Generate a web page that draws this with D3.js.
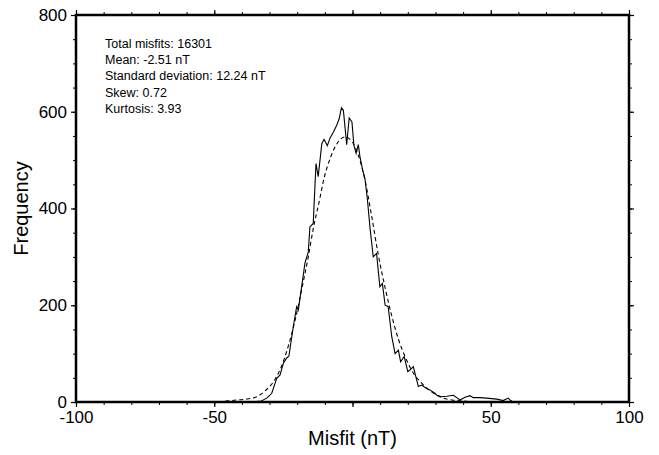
<!DOCTYPE html>
<html lang="en">
<head>
<meta charset="UTF-8">
<title>Misfit histogram</title>
<script src="https://d3js.org/d3.v7.min.js"></script>
<style>
  body { margin: 0; background: #fff; }
  svg { font-family: "Liberation Sans", Arial, sans-serif; }
</style>
</head>
<body>
<script>
// observed misfit histogram (nT, count)
var histX = [-46, -40, -35, -33, -31, -29.2, -27.4, -26.2, -25, -23.8, -23, -21.4, -20.2, -19.6, -18.4, -17.2, -16, -15.4, -14.2, -13.9, -13.2, -12.4, -11.1, -10.3, -9.1, -8.1, -6.9, -5.7, -4.8, -4, -3.3, -2.1, -1.2, -0.2, 0.5, 1.3, 2.1, 2.7, 3.7, 4.5, 5.4, 6.3, 7.5, 8.7, 9.9, 10.8, 11.8, 12.9, 14.2, 15.4, 16.6, 17.4, 18.7, 20, 20.8, 22, 23.8, 25, 26.8, 28, 29.8, 30.5, 32.2, 34.1, 36.5, 37.7, 38.9, 40.7, 42.5, 43.7, 46.1, 48.5, 52.2, 54.5, 56.3, 57.2, 58, 61];
var histY = [0, 1, 1, 2, 8, 18, 49, 56, 80, 91, 95, 156, 197, 190, 238, 287, 310, 362, 369, 407, 493, 466, 534, 543, 530, 546, 558, 572, 586, 608, 603, 532, 587, 579, 531, 514, 532, 507, 479, 462, 418, 362, 300, 307, 238, 245, 200, 197, 135, 100, 107, 83, 94, 63, 66, 73, 32, 35, 28, 25, 18, 14, 11, 12, 14, 9, 4, 10, 13, 9, 9, 8, 6, 3, 8, 3, 0, 0];

// fitted normal curve
var fitX = [-46, -42, -38.3, -34.6, -31.6, -28, -25.6, -23.2, -20.8, -18.4, -16, -14.2, -11.8, -10.6, -8, -5.5, -2.7, 0, 2, 4.5, 6.9, 9.3, 11.8, 14.2, 16.6, 19, 22, 25, 28.6, 32, 36, 40, 45];
var fitY = [2, 4, 6, 11, 23, 47, 75, 116, 168, 232, 300, 358, 421, 455, 505, 535, 548, 537, 512, 459, 385, 305, 236, 178, 130, 94, 60, 39, 21, 10, 4, 2, 0];

var xTickVals = [-100, -50, 0, 50, 100];
var xTickLabels = ["-100", "-50", "", "50", "100"];
var yTickVals = [0, 200, 400, 600, 800];

var statLines = [
  "Total misfits: 16301",
  "Mean: -2.51 nT",
  "Standard deviation: 12.24 nT",
  "Skew: 0.72",
  "Kurtosis: 3.93"
];

var margin = { top: 15, right: 30, bottom: 53, left: 76 },
    width = 659 - margin.left - margin.right,
    height = 455 - margin.top - margin.bottom;

var svg = d3.select("body").append("svg")
    .attr("width", 659)
    .attr("height", 455);

var g = svg.append("g")
    .attr("transform", "translate(" + margin.left + "," + margin.top + ")");

var x = d3.scaleLinear().domain([-100, 100]).range([0, width]);
var y = d3.scaleLinear().domain([0, 800]).range([height, 0]);

// minor ticks on all four sides, pointing outward
var xMinor = d3.range(-100, 101, 10);
var yMinor = d3.range(0, 801, 50);

function minorAxis(axis, vals, tr) {
  var a = g.append("g").attr("transform", tr)
      .call(axis.tickValues(vals).tickSize(3).tickFormat(""));
  a.select(".domain").remove();
  a.selectAll("line").attr("stroke", "#000").attr("stroke-width", 1);
}
minorAxis(d3.axisBottom(x), xMinor, "translate(0," + height + ")");
minorAxis(d3.axisTop(x), xMinor, "translate(0,0)");
minorAxis(d3.axisLeft(y), yMinor, "translate(0,0)");
minorAxis(d3.axisRight(y), yMinor, "translate(" + width + ",0)");

function majorAxis(axis, vals, tr, fmt) {
  var a = g.append("g").attr("transform", tr)
      .call(axis.tickValues(vals).tickSize(5).tickPadding(4).tickFormat(fmt));
  a.select(".domain").remove();
  a.selectAll("line").attr("stroke", "#000").attr("stroke-width", 1.2);
  a.selectAll("text").attr("font-size", 17).attr("fill", "#000")
      .attr("font-family", "Liberation Sans, Arial, sans-serif");
  return a;
}
majorAxis(d3.axisBottom(x), xTickVals, "translate(0," + height + ")",
  function (d, i) { return xTickLabels[i]; });
majorAxis(d3.axisTop(x), xTickVals, "translate(0,0)", "");
majorAxis(d3.axisLeft(y), yTickVals, "translate(0,0)", d3.format("d"));
majorAxis(d3.axisRight(y), yTickVals, "translate(" + width + ",0)", "");

// curves
var line = d3.line().x(d => x(d[0])).y(d => y(d[1]));

g.append("path")
    .datum(d3.zip(fitX, fitY))
    .attr("d", line.curve(d3.curveMonotoneX))
    .attr("fill", "none")
    .attr("stroke", "#000")
    .attr("stroke-width", 1.1)
    .attr("stroke-dasharray", "4,3");

g.append("path")
    .datum(d3.zip(histX, histY))
    .attr("d", line.curve(d3.curveLinear))
    .attr("fill", "none")
    .attr("stroke", "#000")
    .attr("stroke-width", 1.1);

// frame
g.append("rect")
    .attr("width", width).attr("height", height)
    .attr("fill", "none")
    .attr("stroke", "#000")
    .attr("stroke-width", 2.5);

// statistics block
g.append("g").selectAll("text")
    .data(statLines)
    .enter().append("text")
    .attr("x", x(-89.5))
    .attr("y", (d, i) => 33 + i * 16.2)
    .attr("font-size", 12.5)
    .text(d => d);

// axis titles
svg.append("text")
    .attr("x", margin.left + width / 2)
    .attr("y", 445)
    .attr("text-anchor", "middle")
    .attr("font-size", 20)
    .text("Misfit (nT)");

svg.append("text")
    .attr("transform", "translate(28," + (margin.top + height / 2) + ") rotate(-90)")
    .attr("text-anchor", "middle")
    .attr("font-size", 20)
    .text("Frequency");
</script>
</body>
</html>
